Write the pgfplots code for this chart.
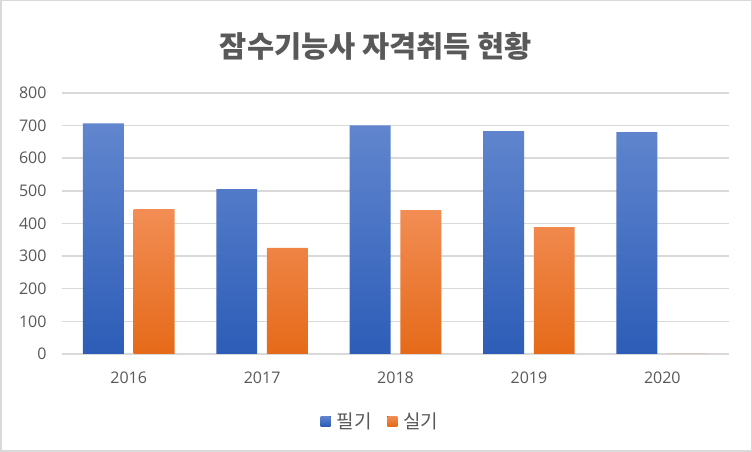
\documentclass[border=0pt]{standalone}
\usepackage{pgfplots}
\pgfplotsset{compat=1.18}
\usepackage{fontspec}
\setmainfont{Noto Sans CJK KR}
\newfontfamily\numfont{Open Sans}
\definecolor{tickgray}{HTML}{595959}
\definecolor{gridgray}{HTML}{D9D9D9}
\definecolor{blueTop}{HTML}{6186CE}
\definecolor{blueBot}{HTML}{2D5DB8}
\definecolor{orTop}{HTML}{F28D54}
\definecolor{orBot}{HTML}{E56A19}
\begin{document}
\begin{tikzpicture}[x=1pt,y=1pt]
\useasboundingbox (0,0) rectangle (752,452);
\fill[white] (0,0) rectangle (752,452);
\draw[gridgray, line width=1.5pt] (0.75,0.75) rectangle (751.25,451.25);
\node[text=tickgray, font=\bfseries\fontsize{29.5}{31}\selectfont] at (376,406) {잠수기능사 자격취득 현황};
\begin{axis}[
  at={(62pt,98pt)}, anchor=south west,
  scale only axis, width=667pt, height=261pt,
  xmin=-0.5, xmax=4.5, ymin=0, ymax=800,
  ytick={0,100,...,800},
  xtick={0,1,2,3,4},
  xticklabels={2016,2017,2018,2019,2020},
  axis line style={draw=none},
  major tick length=0pt,
  ymajorgrids, grid style={gridgray, line width=1.5pt},
  /pgf/number format/assume math mode=true,
  ticklabel style={font=\numfont\fontsize{16}{16}\selectfont, text=tickgray},
  yticklabel style={xshift=-12pt},
  xticklabel style={yshift=-14pt},
  bar width=0.307,
  legend columns=2,
  legend style={draw=none, at={(0.4775,-0.257)}, anchor=center,
    font=\fontsize{19}{20}\selectfont, text=tickgray,
    /tikz/every odd column/.append style={column sep=4pt},
    /tikz/every even column/.append style={column sep=14pt}},
  legend image code/.code={\fill[#1] (0pt,-5pt) rectangle (10pt,5pt);},
]
\addplot[ybar, bar shift=-0.19, draw=none, top color=blueTop, bottom color=blueBot]
  coordinates {(0,707) (1,505) (2,701) (3,683) (4,680)};
\addlegendentry{필기}
\addplot[ybar, bar shift=0.19, draw=none, top color=orTop, bottom color=orBot]
  coordinates {(0,444) (1,325) (2,441) (3,389) (4,0)};
\addlegendentry{실기}
\end{axis}
\end{tikzpicture}
\end{document}
